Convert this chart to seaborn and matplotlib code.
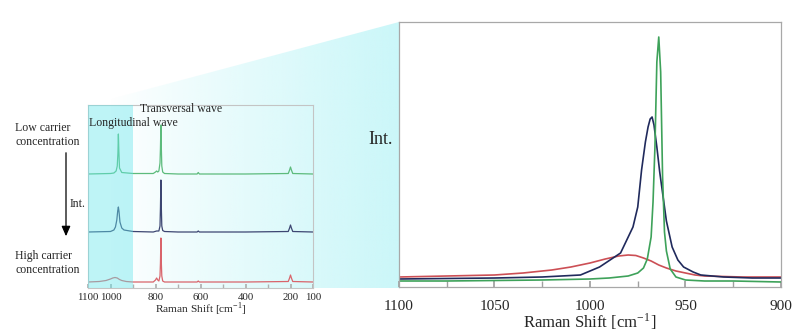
import numpy as np
import pandas as pd
import matplotlib
matplotlib.use("Agg")
import matplotlib.pyplot as plt
from matplotlib.patches import Polygon
from matplotlib.ticker import FixedLocator, MultipleLocator
import seaborn as sns

# ---------------- data ----------------
# Zoomed panel (1100-900 cm-1), intensity in arbitrary units
green_x = [1100, 1075, 1050, 1025, 1000, 990, 980, 975, 972, 970, 968, 967, 966, 965, 964, 963, 962, 961, 960, 958, 955, 950, 940, 925, 900]
green_y = [6, 6, 6.5, 7, 8, 9, 11, 14, 19, 28, 50, 85, 140, 225, 250, 215, 110, 55, 36, 18, 10, 7, 6, 6, 5]

navy_x = [1100, 1075, 1050, 1025, 1005, 995, 984, 977.5, 975, 973, 971, 969.6, 968.5, 967.5, 966.5, 965, 963.5, 962, 960, 957, 954, 951, 946, 942, 930, 915, 900]
navy_y = [8, 8.5, 9, 10, 12, 20, 34, 60, 80, 117, 145, 160, 168, 170, 162, 140, 115, 94, 66, 40, 27, 20, 15, 12, 10, 9, 9]

red_x = [1100, 1075, 1050, 1035, 1020, 1010, 1000, 992, 985, 980, 976, 972, 968, 964, 960, 955, 950, 945, 940, 930, 920, 900]
red_y = [10, 11, 12, 14, 17, 20, 24, 28, 31, 32, 31.5, 29, 26, 22, 19, 16, 14, 12, 11, 10.5, 10, 10]

# Overview panel (1100-100 cm-1), stacked spectra
low_x = [1100, 1000, 985, 975, 970, 967, 965, 963, 960, 950, 900, 810, 800, 795, 790, 785, 780, 778, 776, 774, 772, 768, 760, 700, 615, 610, 605, 500, 400, 210, 204, 200, 196, 190, 100]
low_y = [114, 114.5, 115, 117, 122, 135, 154, 138, 120, 115.5, 114.5, 114.5, 116, 117, 116, 117, 125, 140, 163, 140, 122, 116, 114.5, 114, 114, 115.5, 114, 114, 114, 114.5, 118, 121, 118, 114.5, 114]

mid_x = [1100, 1000, 985, 978, 972, 968, 965, 962, 958, 950, 940, 900, 810, 795, 785, 780, 778, 776, 774, 772, 768, 760, 700, 615, 610, 605, 500, 400, 210, 204, 200, 196, 190, 100]
mid_y = [56, 56.5, 58, 61, 68, 77, 81, 76, 66, 60, 58, 56.5, 56, 57, 57, 62, 80, 108, 80, 62, 57.5, 56.5, 56, 56, 57, 56, 56, 56, 56.5, 60, 63, 60, 56.5, 56]

high_x = [1100, 1050, 1020, 1000, 990, 980, 970, 960, 950, 930, 900, 810, 800, 795, 790, 785, 780, 778, 776, 774, 772, 768, 760, 700, 615, 610, 605, 500, 400, 210, 204, 200, 196, 190, 100]
high_y = [6, 6.5, 7.5, 9, 10, 10.5, 10, 8.5, 7.5, 6.5, 6, 6, 8, 10, 8, 7, 12, 25, 50, 25, 12, 7, 6, 6, 6, 7, 6, 6, 6, 6.5, 10, 13, 10, 6.5, 6]

right_ticks = [1100, 1050, 1000, 950, 900]
left_ticks = [1100, 1000, 800, 600, 400, 200, 100]

# ---------------- styling ----------------
sns.set_theme(style="white")
plt.rcParams["font.family"] = ["Liberation Serif", "DejaVu Serif"]
plt.rcParams["mathtext.fontset"] = "stix"

GREEN, NAVY, RED = "#3ea25a", "#202a5c", "#cc4f55"
GREEN_L, NAVY_L, RED_L = "#5dbb7c", "#3d4672", "#d9646b"

fig = plt.figure(figsize=(8, 3.35), dpi=100)
W, H = 800, 335

# background layer in pixel coordinates
bg = fig.add_axes([0, 0, 1, 1], zorder=0)
bg.set_xlim(0, W)
bg.set_ylim(H, 0)
bg.axis("off")

# gradient "zoom" fan
n = 400
ramp = np.clip((np.linspace(88, 399, n) - 110) / (399 - 110), 0, 1) ** 0.9
img = np.zeros((2, n, 4))
img[..., 0] = 0xcb / 255
img[..., 1] = 0xf7 / 255
img[..., 2] = 0xf9 / 255
img[..., 3] = ramp
im = bg.imshow(img, extent=(88, 399, 288, 22), aspect="auto", interpolation="bilinear", zorder=0)
fan = Polygon([(88, 105), (399, 22), (399, 288), (88, 288)], closed=True, transform=bg.transData,
              facecolor="none", edgecolor="none")
bg.add_patch(fan)
im.set_clip_path(fan)
bg.set_xlim(0, W)
bg.set_ylim(H, 0)

# ---------------- left overview panel ----------------
axL = fig.add_axes([88 / W, 1 - 288 / H, 225 / W, 183 / H], zorder=2)
axL.set_facecolor("none")
df_l = pd.concat([
    pd.DataFrame({"x": low_x, "y": low_y, "s": "low"}),
    pd.DataFrame({"x": mid_x, "y": mid_y, "s": "mid"}),
    pd.DataFrame({"x": high_x, "y": high_y, "s": "high"}),
])
sns.lineplot(data=df_l, x="x", y="y", hue="s", palette={"low": GREEN_L, "mid": NAVY_L, "high": RED_L},
             sort=False, estimator=None, lw=0.9, legend=False, ax=axL)
axL.axvspan(1100, 900, color="#64e6eb", alpha=0.42, lw=0, zorder=3)
axL.set_xlim(1100, 100)
axL.set_ylim(0, 183)
axL.set_xlabel("Raman Shift [cm$^{\\mathregular{-1}}$]", fontsize=8.2, labelpad=-0.5)
axL.set_ylabel("")
axL.set_yticks([])
axL.xaxis.set_major_locator(FixedLocator(left_ticks))
axL.xaxis.set_minor_locator(MultipleLocator(100))
axL.tick_params(axis="x", which="both", direction="in", length=3, color="#b0b0b0", labelsize=7.8, pad=3.5,
                bottom=True)
for sp in axL.spines.values():
    sp.set_color("#c4c4c4")
    sp.set_linewidth(0.8)

# ---------------- right zoomed panel ----------------
axR = fig.add_axes([399 / W, 1 - 287 / H, 382 / W, 265 / H], zorder=2)
axR.set_facecolor("white")
df_r = pd.concat([
    pd.DataFrame({"x": red_x, "y": red_y, "s": "high"}),
    pd.DataFrame({"x": navy_x, "y": navy_y, "s": "mid"}),
    pd.DataFrame({"x": green_x, "y": green_y, "s": "low"}),
])
sns.lineplot(data=df_r, x="x", y="y", hue="s", palette={"low": GREEN, "mid": NAVY, "high": RED},
             sort=False, estimator=None, lw=1.2, legend=False, ax=axR)
axR.set_xlim(1100, 900)
axR.set_ylim(0, 265)
axR.set_yticks([])
axR.set_ylabel("")
axR.xaxis.set_major_locator(FixedLocator(right_ticks))
axR.xaxis.set_minor_locator(MultipleLocator(25))
axR.tick_params(axis="x", which="both", direction="in", length=4, color="#a0a0a0", labelsize=11, pad=9,
                bottom=True)
axR.set_xlabel("Raman Shift [cm$^{\\mathregular{-1}}$]", fontsize=12, labelpad=-1)
for sp in axR.spines.values():
    sp.set_color("#a8a8a8")
    sp.set_linewidth(0.9)

# ---------------- annotations ----------------
FS = 8.5
bg.text(15, 128, "Low carrier", fontsize=FS, ha="left", va="center")
bg.text(15, 142, "concentration", fontsize=FS, ha="left", va="center")
bg.text(15, 256, "High carrier", fontsize=FS, ha="left", va="center")
bg.text(15, 270, "concentration", fontsize=FS, ha="left", va="center")
bg.annotate("", xy=(66, 239), xytext=(66, 150),
            arrowprops=dict(arrowstyle="-|>,head_length=0.5,head_width=0.22", color="black", lw=0.9))
bg.text(70, 204, "Int.", fontsize=FS, ha="left", va="center")
fig.text(140 / W, 1 - 109 / H, "Transversal wave", fontsize=FS, ha="left", va="center", zorder=5)
fig.text(89 / W, 1 - 123 / H, "Longitudinal wave", fontsize=FS, ha="left", va="center", zorder=5)
bg.text(381, 140, "Int.", fontsize=13, ha="center", va="center")

fig.savefig("out.png", dpi=100)
